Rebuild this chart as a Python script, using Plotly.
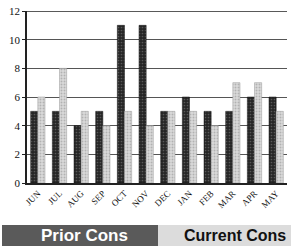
import plotly.graph_objects as go

months = ["JUN", "JUL", "AUG", "SEP", "OCT", "NOV", "DEC", "JAN", "FEB", "MAR", "APR", "MAY"]
prior_cons = [5, 5, 4, 5, 11, 11, 5, 6, 5, 5, 6, 6]
current_cons = [6, 8, 5, 4, 5, 4, 5, 5, 4, 7, 7, 5]
y_ticks = [0, 2, 4, 6, 8, 10, 12]

fig = go.Figure()
fig.add_trace(go.Bar(
    x=months, y=prior_cons, name="Prior Cons",
    marker=dict(color="#2a2a2a", line=dict(color="#111", width=0.5),
                pattern=dict(shape=".", fgcolor="#8a8a8a", bgcolor="#262626", size=3, solidity=0.25)),
))
fig.add_trace(go.Bar(
    x=months, y=current_cons, name="Current Cons",
    marker=dict(color="#cfcfcf", line=dict(color="#999", width=0.5),
                pattern=dict(shape=".", fgcolor="#8a8a8a", bgcolor="#dadada", size=3, solidity=0.35)),
))

fig.update_layout(
    width=291, height=246,
    margin=dict(l=27, r=4, t=11, b=63),
    paper_bgcolor="white", plot_bgcolor="white",
    barmode="group", bargap=0.34, bargroupgap=0.0,
    showlegend=False,
    font=dict(family="Liberation Serif", color="#111"),
)
fig.update_yaxes(
    range=[0, 12], tickvals=y_ticks, ticktext=[str(v) for v in y_ticks],
    showgrid=True, gridcolor="#555", gridwidth=1,
    showline=True, linecolor="#222", linewidth=1.5,
    ticks="outside", ticklen=3, tickcolor="#222",
    tickfont=dict(family="Liberation Serif", size=11, color="#111"),
    zeroline=False,
)
fig.update_xaxes(
    showline=True, linecolor="#222", linewidth=1.5,
    tickangle=-45, tickfont=dict(family="Liberation Serif", size=9, color="#111"),
    showgrid=False,
)
fig.add_shape(type="line", xref="paper", yref="y", x0=0, x1=1, y0=12, y1=12,
              line=dict(color="#222", width=1.5))

ph = 246 - 11 - 63
pw = 291 - 27 - 4
def px_to_paper_x(px):
    return (px - 27) / pw
def px_to_paper_y(py):
    return (246 - 63 - py) / ph

fig.add_shape(type="rect", xref="paper", yref="paper",
              x0=px_to_paper_x(2), x1=px_to_paper_x(158),
              y0=px_to_paper_y(247), y1=px_to_paper_y(225),
              fillcolor="#5a5a5a", line=dict(width=0), layer="below")
fig.add_shape(type="rect", xref="paper", yref="paper",
              x0=px_to_paper_x(158), x1=px_to_paper_x(292),
              y0=px_to_paper_y(247), y1=px_to_paper_y(225),
              fillcolor="#dcdcdc", line=dict(width=0), layer="below")
fig.add_annotation(xref="paper", yref="paper", x=px_to_paper_x(84), y=px_to_paper_y(235.5),
                   xanchor="center", yanchor="middle",
                   text="<b>Prior Cons</b>", showarrow=False,
                   font=dict(family="Liberation Sans", size=17, color="white"))
fig.add_annotation(xref="paper", yref="paper", x=px_to_paper_x(235), y=px_to_paper_y(235.5),
                   xanchor="center", yanchor="middle",
                   text="<b>Current Cons</b>", showarrow=False,
                   font=dict(family="Liberation Sans", size=16, color="#111"))

fig.write_html("out.html", config={"displayModeBar": False},
               post_script="document.body.style.margin='0';document.body.style.overflow='hidden';")
